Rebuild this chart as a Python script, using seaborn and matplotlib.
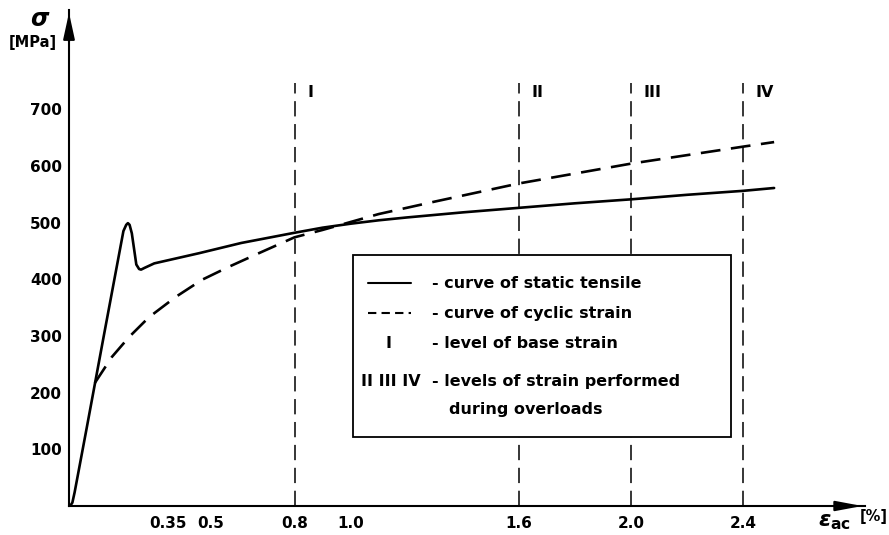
import matplotlib
matplotlib.use("Agg")
import matplotlib.pyplot as plt
import seaborn as sns
import pandas as pd
from matplotlib.patches import Rectangle

# ---------------- data ----------------
static_x = [0.0, 0.008, 0.016, 0.06, 0.12, 0.19, 0.200, 0.206, 0.212, 0.220,
            0.236, 0.246, 0.253, 0.265, 0.30, 0.46, 0.61, 0.80, 0.90, 1.0,
            1.1, 1.2, 1.4, 1.6, 1.8, 2.0, 2.2, 2.4, 2.51]
static_y = [0, 6, 24, 140, 300, 485, 496, 499, 496, 481,
            426, 418, 417, 420, 428, 446, 464, 482, 491, 498,
            504, 509, 518, 526, 534, 541, 549, 556, 561]

cyclic_x = [0.088, 0.149, 0.21, 0.281, 0.377, 0.47, 0.566, 0.673, 0.80,
            0.90, 1.0, 1.1, 1.3, 1.6, 2.0, 2.4, 2.51]
cyclic_y = [217, 263, 298, 333, 369, 399, 422, 446, 474,
            487, 501, 515, 537, 569, 604, 634, 642]

level_x = [0.8, 1.6, 2.0, 2.4]
level_labels = ["I", "II", "III", "IV"]

xtick_vals = [0.35, 0.5, 0.8, 1.0, 1.6, 2.0, 2.4]
xtick_labels = ["0.35", "0.5", "0.8", "1.0", "1.6", "2.0", "2.4"]
ytick_vals = [100, 200, 300, 400, 500, 600, 700]

legend_entries = ["- curve of static tensile", "- curve of cyclic strain",
                  "- level of base strain", "- levels of strain performed",
                  "during overloads"]

# ---------------- figure ----------------
sns.set_style("white")
plt.rcParams['font.family'] = ['DejaVu Sans']
plt.rcParams['text.color'] = 'black'
plt.rcParams['font.weight'] = 'bold'

W, H = 889, 535
fig = plt.figure(figsize=(W / 100, H / 100), dpi=100)
ax = fig.add_axes([69 / W, (H - 506) / H, (865 - 69) / W, (506 - 10) / H])

xmin, xmax = -0.004, 2.834
ymin, ymax = 0, 875
ax.set_xlim(xmin, xmax)
ax.set_ylim(ymin, ymax)

df_s = pd.DataFrame({"x": static_x, "y": static_y})
df_c = pd.DataFrame({"x": cyclic_x, "y": cyclic_y})
sns.lineplot(data=df_s, x="x", y="y", ax=ax, color="black", lw=1.9,
             sort=False, estimator=None)
sns.lineplot(data=df_c, x="x", y="y", ax=ax, color="black", lw=1.9,
             linestyle=(0, (7.5, 4)), sort=False, estimator=None)

# vertical strain levels
ax.vlines(level_x, 0, 746, colors="black", lw=1.1, linestyles=[(0, (10, 5))])
for xv, lab in zip(level_x, level_labels):
    ax.text(xv + 0.045, 730, lab, fontsize=11.5, va="center", ha="left",
            fontweight="bold")

# spines / ticks
for s in ["top", "right"]:
    ax.spines[s].set_visible(False)
for s in ["left", "bottom"]:
    ax.spines[s].set_linewidth(1.5)
    ax.spines[s].set_color("black")

ax.set_xticks(xtick_vals)
ax.set_xticklabels(xtick_labels, fontweight="bold")
ax.set_yticks(ytick_vals)
ax.set_yticklabels([str(v) for v in ytick_vals], fontweight="bold")
ax.tick_params(axis="both", direction="in", length=5, width=1.3,
               labelsize=11, colors="black")
ax.tick_params(axis="x", pad=7)
ax.tick_params(axis="y", pad=5)
ax.set_xlabel("")
ax.set_ylabel("")

# axis arrows
ax.annotate("", xy=(0, 1), xytext=(0, 0.93), xycoords="axes fraction",
            arrowprops=dict(arrowstyle="-|>,head_length=1.6,head_width=0.35",
                            color="black", lw=1.5))
ax.annotate("", xy=(1, 0), xytext=(0.96, 0), xycoords="axes fraction",
            arrowprops=dict(arrowstyle="-|>,head_length=1.6,head_width=0.3",
                            color="black", lw=1.5))

# axis labels
fig.text(40 / W, 1 - 19 / H, r"$\boldsymbol{\sigma}$", fontsize=17,
         ha="center", va="center")
fig.text(33 / W, 1 - 43 / H, "[MPa]", fontsize=10.5, ha="center", va="center",
         fontweight="bold")
fig.text(835 / W, 1 - 522 / H, r"$\varepsilon_{\mathbf{ac}}$", fontsize=16,
         ha="center", va="center")
fig.text(874 / W, 1 - 516 / H, "[%]", fontsize=10.5, ha="center", va="center",
         fontweight="bold")

# legend box (drawn in data coords)
bx0, bx1 = 1.008, 2.356
by0, by1 = 122, 443
ax.add_patch(Rectangle((bx0, by0), bx1 - bx0, by1 - by0, facecolor="white",
                       edgecolor="black", lw=1.3, zorder=5))
row_y = [393, 340, 287, 220, 171]
tx = 1.29
ax.plot([1.062, 1.215], [row_y[0], row_y[0]], color="black", lw=1.5, zorder=6)
ax.plot([1.062, 1.215], [row_y[1], row_y[1]], color="black", lw=1.5,
        linestyle=(0, (4, 2.5)), zorder=6)
ax.text(1.136, row_y[2], "I", fontsize=11.5, ha="center", va="center",
        zorder=6, fontweight="bold")
ax.text(1.145, row_y[3], "II III IV", fontsize=11.5, ha="center", va="center",
        zorder=6, fontweight="bold")
for i, t in enumerate(legend_entries):
    x = tx if i < 4 else 1.351
    ax.text(x, row_y[i], t, fontsize=11.5, ha="left", va="center", zorder=6,
            fontweight="bold")

fig.savefig("out.png", dpi=100)
